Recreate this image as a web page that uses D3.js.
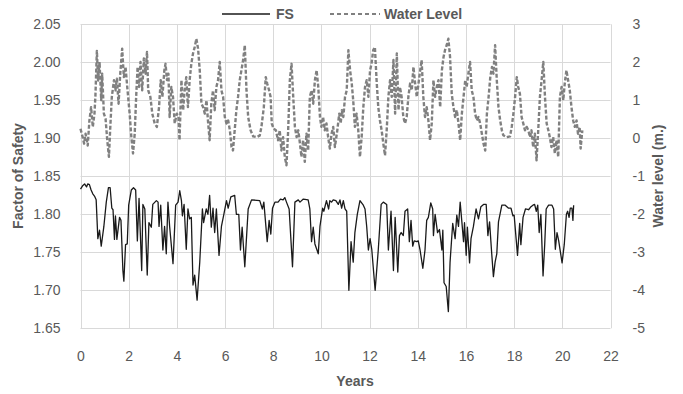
<!DOCTYPE html>
<html>
<head>
<meta charset="utf-8">
<script src="https://cdn.jsdelivr.net/npm/d3@7"></script>
<style>
  html, body { margin: 0; padding: 0; background: #fff; }
  svg { display: block; font-family: "Liberation Sans", Arial, sans-serif; }
</style>
</head>
<body>
<svg id="chart" width="683" height="394"></svg>
<script>
// ---------- DATA ----------
const xTicks = [0, 2, 4, 6, 8, 10, 12, 14, 16, 18, 20, 22];
const fsTicks = [1.65, 1.70, 1.75, 1.80, 1.85, 1.90, 1.95, 2.00, 2.05];
const wlTicks = [-5, -4, -3, -2, -1, 0, 1, 2, 3];
const seriesNames = ["FS", "Water Level"];

const fsYears = [0.00,0.10,0.17,0.25,0.30,0.37,0.44,0.51,0.58,0.65,0.72,0.79,0.86,0.97,1.07,1.16,1.23,1.30,1.35,1.41,1.45,1.51,1.62,1.68,1.76,1.80,1.87,1.94,2.00,2.11,2.20,2.29,2.36,2.43,2.54,2.59,2.67,2.77,2.84,2.94,3.00,3.15,3.22,3.26,3.33,3.42,3.49,3.56,3.63,3.70,3.84,3.95,4.05,4.12,4.19,4.23,4.30,4.39,4.46,4.53,4.60,4.67,4.74,4.84,4.95,5.06,5.11,5.22,5.29,5.36,5.43,5.50,5.57,5.64,5.75,5.85,5.95,6.06,6.13,6.24,6.40,6.47,6.57,6.64,6.71,6.82,6.96,7.10,7.44,7.55,7.61,7.75,7.83,7.90,7.97,8.07,8.20,8.30,8.41,8.48,8.55,8.66,8.80,8.90,9.04,9.11,9.25,9.45,9.52,9.59,9.66,9.73,9.87,9.94,10.05,10.10,10.21,10.30,10.35,10.42,10.49,10.60,10.70,10.77,10.84,10.91,10.98,11.05,11.14,11.23,11.32,11.39,11.49,11.60,11.74,11.81,11.88,11.95,12.02,12.09,12.23,12.36,12.48,12.57,12.71,12.78,12.89,12.99,13.06,13.17,13.24,13.31,13.40,13.47,13.58,13.65,13.72,13.79,13.85,13.96,14.02,14.09,14.21,14.30,14.37,14.44,14.54,14.62,14.65,14.72,14.82,14.90,15.00,15.04,15.09,15.18,15.27,15.34,15.45,15.55,15.62,15.69,15.76,15.83,15.90,15.94,16.01,16.06,16.15,16.21,16.31,16.42,16.52,16.62,16.73,16.84,16.91,16.98,17.07,17.14,17.21,17.28,17.35,17.49,17.63,17.77,17.87,17.95,18.00,18.09,18.14,18.23,18.28,18.37,18.47,18.60,18.70,18.78,18.85,18.92,18.98,19.04,19.11,19.20,19.27,19.33,19.43,19.57,19.64,19.71,19.78,19.85,19.99,20.08,20.17,20.22,20.28,20.33,20.40,20.44,20.47];
const fsValues = [1.833,1.838,1.840,1.836,1.840,1.839,1.832,1.827,1.824,1.819,1.768,1.779,1.758,1.784,1.816,1.835,1.835,1.808,1.806,1.767,1.798,1.767,1.796,1.792,1.726,1.712,1.760,1.761,1.812,1.832,1.835,1.832,1.765,1.821,1.726,1.813,1.807,1.720,1.789,1.783,1.813,1.818,1.816,1.784,1.812,1.753,1.784,1.748,1.816,1.784,1.735,1.812,1.816,1.831,1.818,1.798,1.813,1.754,1.807,1.794,1.796,1.707,1.720,1.687,1.737,1.807,1.789,1.807,1.800,1.825,1.783,1.808,1.776,1.807,1.746,1.784,1.800,1.818,1.808,1.823,1.825,1.800,1.800,1.753,1.783,1.731,1.807,1.819,1.818,1.807,1.816,1.764,1.792,1.774,1.808,1.816,1.816,1.820,1.819,1.822,1.816,1.807,1.731,1.816,1.819,1.816,1.820,1.819,1.807,1.764,1.783,1.761,1.748,1.784,1.808,1.804,1.818,1.807,1.818,1.816,1.819,1.818,1.813,1.819,1.808,1.818,1.807,1.804,1.700,1.764,1.737,1.776,1.800,1.818,1.812,1.807,1.784,1.753,1.768,1.754,1.700,1.753,1.813,1.816,1.813,1.753,1.804,1.726,1.796,1.724,1.772,1.776,1.772,1.804,1.807,1.764,1.792,1.758,1.765,1.764,1.765,1.754,1.729,1.753,1.792,1.796,1.815,1.807,1.772,1.800,1.776,1.780,1.753,1.779,1.710,1.705,1.672,1.737,1.788,1.768,1.799,1.784,1.816,1.790,1.764,1.789,1.746,1.783,1.736,1.768,1.784,1.807,1.794,1.810,1.813,1.813,1.772,1.790,1.748,1.718,1.737,1.748,1.790,1.812,1.812,1.808,1.808,1.798,1.799,1.765,1.746,1.788,1.760,1.796,1.807,1.806,1.810,1.812,1.813,1.804,1.812,1.776,1.800,1.719,1.761,1.807,1.812,1.812,1.807,1.754,1.776,1.765,1.736,1.760,1.800,1.804,1.796,1.808,1.808,1.792,1.812];

const wlYears = [0.00,0.09,0.15,0.21,0.30,0.37,0.44,0.51,0.58,0.62,0.68,0.73,0.79,0.86,0.90,0.97,1.04,1.11,1.18,1.23,1.30,1.39,1.45,1.51,1.58,1.65,1.73,1.80,1.87,1.94,2.04,2.11,2.18,2.25,2.31,2.37,2.43,2.49,2.56,2.63,2.70,2.76,2.81,2.90,2.98,3.08,3.17,3.26,3.33,3.40,3.48,3.53,3.59,3.65,3.70,3.77,3.84,3.91,4.00,4.07,4.11,4.19,4.26,4.32,4.39,4.46,4.53,4.60,4.67,4.74,4.81,4.88,4.95,5.02,5.09,5.16,5.23,5.29,5.36,5.43,5.50,5.57,5.64,5.71,5.78,5.85,5.92,5.99,6.06,6.13,6.20,6.27,6.33,6.40,6.47,6.54,6.61,6.68,6.75,6.82,6.89,6.96,7.06,7.17,7.31,7.44,7.51,7.61,7.69,7.75,7.83,7.89,7.94,8.02,8.11,8.20,8.27,8.34,8.41,8.48,8.55,8.62,8.69,8.76,8.83,8.90,8.97,9.04,9.11,9.17,9.24,9.31,9.38,9.45,9.52,9.59,9.66,9.73,9.80,9.87,9.94,10.00,10.07,10.14,10.21,10.28,10.35,10.42,10.49,10.56,10.66,10.74,10.80,10.85,10.91,10.98,11.05,11.12,11.19,11.26,11.32,11.39,11.46,11.53,11.60,11.67,11.74,11.81,11.88,11.95,12.02,12.08,12.15,12.22,12.29,12.36,12.43,12.50,12.57,12.64,12.71,12.78,12.85,12.92,12.99,13.06,13.13,13.20,13.26,13.33,13.40,13.47,13.54,13.61,13.68,13.75,13.82,13.89,13.96,14.03,14.10,14.16,14.23,14.30,14.37,14.44,14.51,14.58,14.65,14.72,14.79,14.86,14.93,15.00,15.07,15.13,15.20,15.27,15.34,15.41,15.48,15.55,15.62,15.69,15.76,15.83,15.90,15.97,16.03,16.10,16.17,16.24,16.31,16.38,16.45,16.52,16.59,16.66,16.73,16.80,16.87,16.94,17.01,17.08,17.14,17.21,17.28,17.35,17.42,17.49,17.55,17.69,17.83,17.90,17.97,18.04,18.11,18.17,18.24,18.31,18.38,18.45,18.52,18.59,18.66,18.72,18.79,18.86,18.93,19.00,19.07,19.14,19.21,19.28,19.35,19.42,19.48,19.55,19.62,19.69,19.76,19.83,19.90,19.97,20.04,20.10,20.17,20.24,20.31,20.38,20.45,20.52,20.59,20.65,20.72,20.76,20.83];
const wlValues = [0.25,0.03,-0.14,0.12,-0.19,0.47,0.82,0.30,0.65,1.13,2.30,1.52,2.01,1.00,1.70,0.65,0.52,-0.05,-0.49,0.21,1.09,1.53,1.26,1.57,0.91,1.70,2.36,1.61,1.88,1.35,0.65,0.04,-0.40,0.12,1.09,1.88,1.35,2.01,1.26,2.10,1.70,2.27,1.26,1.09,0.65,0.39,0.30,0.82,1.53,1.09,1.79,1.96,1.53,1.70,0.56,1.35,1.09,0.39,0.65,0.56,-0.05,1.53,0.74,1.26,1.61,0.82,1.53,1.96,2.23,2.40,2.62,2.36,1.79,0.91,0.82,0.65,1.00,0.47,-0.05,0.91,1.26,0.74,1.35,1.53,2.01,1.26,1.09,0.56,0.39,0.47,0.21,-0.23,-0.32,0.21,0.74,1.09,1.53,1.79,2.06,2.45,1.26,0.56,0.21,0.05,0.03,0.07,0.30,0.82,1.61,1.44,1.26,1.09,0.39,0.25,0.21,-0.05,0.21,-0.32,0.03,-0.49,-0.71,0.21,1.53,1.96,1.09,0.30,0.03,0.21,-0.14,-0.49,-0.05,-0.62,0.12,-0.32,1.09,1.26,0.91,1.53,1.79,1.35,0.56,0.30,0.56,0.21,0.39,0.03,-0.27,0.12,0.30,-0.23,0.21,0.65,0.39,0.74,0.56,1.09,1.26,2.32,1.79,1.44,1.00,0.30,0.65,0.21,-0.49,0.03,0.82,1.35,1.53,1.09,1.79,1.96,2.32,2.40,1.53,0.82,0.47,0.21,-0.14,-0.45,0.21,1.09,1.53,1.09,2.06,0.65,2.23,0.74,1.35,1.09,0.56,0.39,0.56,1.09,1.44,1.26,1.88,1.44,1.09,1.44,1.79,2.06,1.09,0.56,0.82,0.47,-0.05,0.39,1.53,1.09,1.35,1.53,0.82,1.79,2.14,2.32,2.45,2.62,2.14,1.17,0.82,0.56,0.74,0.39,-0.05,0.65,1.09,1.53,1.35,1.70,2.01,1.26,1.09,0.65,0.47,0.56,0.39,0.12,-0.14,-0.32,0.65,1.09,1.61,1.88,1.70,2.45,1.53,0.82,0.47,0.21,0.08,0.03,0.05,0.30,0.65,1.09,1.61,1.35,1.17,0.56,0.39,0.21,0.30,0.21,0.03,0.21,-0.23,0.12,-0.58,0.21,1.09,1.53,2.01,1.09,0.39,0.21,0.03,-0.23,0.03,-0.40,-0.05,-0.49,1.09,1.35,1.00,1.44,1.79,1.53,1.26,0.82,0.47,0.30,0.47,0.12,0.30,-0.27,0.21];

// ---------- LAYOUT ----------
const svg = d3.select("#chart");
const L = 80.5, R = 610.5, T = 24.3, B = 328.3;
const textCol = "#595959";
const gridCol = "#d9d9d9";

const x = d3.scaleLinear().domain([0, 22]).range([L, R]);
const yFS = d3.scaleLinear().domain([1.65, 2.05]).range([B, T]);
const yWL = d3.scaleLinear().domain([-5, 3]).range([B, T]);

// gridlines
svg.append("g").selectAll("line.h").data(fsTicks).join("line")
  .attr("x1", L).attr("x2", R)
  .attr("y1", d => Math.round(yFS(d)) + 0.5).attr("y2", d => Math.round(yFS(d)) + 0.5)
  .attr("stroke", gridCol).attr("stroke-width", 1);
svg.append("g").selectAll("line.v").data(xTicks).join("line")
  .attr("y1", T).attr("y2", B)
  .attr("x1", d => Math.round(x(d)) + 0.5).attr("x2", d => Math.round(x(d)) + 0.5)
  .attr("stroke", gridCol).attr("stroke-width", 1);

// axes (labels only, via d3 axes)
const axFont = (g) => g.selectAll("text").attr("fill", textCol)
  .style("font-size", "14px").style("font-family", "'Liberation Sans', Arial, sans-serif");

const gL = svg.append("g").attr("transform", `translate(${L},0)`)
  .call(d3.axisLeft(yFS).tickValues(fsTicks).tickFormat(d3.format(".2f")).tickSize(0).tickPadding(20));
gL.select(".domain").remove(); axFont(gL);

const gR = svg.append("g").attr("transform", `translate(${R},0)`)
  .call(d3.axisRight(yWL).tickValues(wlTicks).tickFormat(d => String(d)).tickSize(0).tickPadding(22));
gR.select(".domain").remove(); axFont(gR);

const gB = svg.append("g").attr("transform", `translate(0,${B})`)
  .call(d3.axisBottom(x).tickValues(xTicks).tickFormat(d => String(d)).tickSize(0).tickPadding(23));
gB.select(".domain").remove(); axFont(gB);

// titles
svg.append("text").attr("x", 355).attr("y", 386).attr("text-anchor", "middle")
  .attr("fill", textCol).style("font-size", "14px").style("font-weight", "bold").text("Years");
svg.append("text").attr("transform", `translate(23,176) rotate(-90)`).attr("text-anchor", "middle")
  .attr("fill", textCol).style("font-size", "14px").style("font-weight", "bold").text("Factor of Safety");
svg.append("text").attr("transform", `translate(663,176) rotate(-90)`).attr("text-anchor", "middle")
  .attr("fill", textCol).style("font-size", "14px").style("font-weight", "bold").text("Water level (m.)");

// series
const fsData = fsYears.map((t, i) => [t, fsValues[i]]);
const wlData = wlYears.map((t, i) => [t, wlValues[i]]);

svg.append("path").datum(fsData)
  .attr("fill", "none").attr("stroke", "#1a1a1a").attr("stroke-width", 1.3).attr("stroke-linejoin", "round")
  .attr("d", d3.line().x(d => x(d[0])).y(d => yFS(d[1])));

svg.append("path").datum(wlData)
  .attr("fill", "none").attr("stroke", "#808080").attr("stroke-width", 2.4)
  .attr("stroke-dasharray", "4,2").attr("stroke-linejoin", "round")
  .attr("d", d3.line().x(d => x(d[0])).y(d => yWL(d[1])));

// legend
const leg = svg.append("g");
leg.append("line").attr("x1", 222).attr("x2", 270).attr("y1", 14).attr("y2", 14)
  .attr("stroke", "#1a1a1a").attr("stroke-width", 1.3);
leg.append("text").attr("x", 276).attr("y", 19).attr("fill", textCol)
  .style("font-size", "14px").style("font-weight", "bold").text(seriesNames[0]);
leg.append("line").attr("x1", 330).attr("x2", 380).attr("y1", 14).attr("y2", 14)
  .attr("stroke", "#808080").attr("stroke-width", 2.2).attr("stroke-dasharray", "4,3");
leg.append("text").attr("x", 384).attr("y", 19).attr("fill", textCol)
  .style("font-size", "14px").style("font-weight", "bold").text(seriesNames[1]);
</script>
</body>
</html>
